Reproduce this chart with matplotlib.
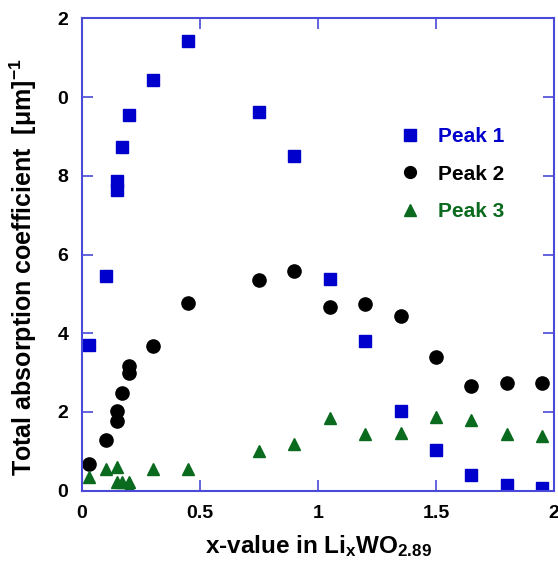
import matplotlib
matplotlib.use("Agg")
import matplotlib.pyplot as plt

plt.rcParams['font.family'] = ['Liberation Sans', 'DejaVu Sans']
plt.rcParams['mathtext.fontset'] = 'custom'
plt.rcParams['mathtext.rm'] = 'Liberation Sans:bold'
plt.rcParams['mathtext.it'] = 'Liberation Sans:bold'
plt.rcParams['mathtext.bf'] = 'Liberation Sans:bold'

# ================= DATA =================
x_p1 = [0.03, 0.10, 0.15, 0.15, 0.17, 0.20, 0.30, 0.45, 0.75, 0.90, 1.05, 1.20, 1.35, 1.50, 1.65, 1.80, 1.95]
y_p1 = [3.70, 5.45, 7.87, 7.63, 8.73, 9.55, 10.43, 11.43, 9.62, 8.50, 5.37, 3.80, 2.03, 1.04, 0.40, 0.15, 0.08]

x_p2 = [0.03, 0.10, 0.15, 0.15, 0.17, 0.20, 0.20, 0.30, 0.45, 0.75, 0.90, 1.05, 1.20, 1.35, 1.50, 1.65, 1.80, 1.95]
y_p2 = [0.68, 1.28, 2.03, 1.77, 2.48, 3.17, 2.99, 3.68, 4.77, 5.36, 5.57, 4.66, 4.74, 4.43, 3.39, 2.65, 2.73, 2.73]

x_p3 = [0.03, 0.10, 0.15, 0.15, 0.17, 0.20, 0.20, 0.30, 0.45, 0.75, 0.90, 1.05, 1.20, 1.35, 1.50, 1.65, 1.80, 1.95]
y_p3 = [0.36, 0.56, 0.60, 0.22, 0.22, 0.22, 0.10, 0.56, 0.55, 1.00, 1.19, 1.85, 1.45, 1.47, 1.86, 1.80, 1.45, 1.38]

x_ticks = [0, 0.5, 1, 1.5, 2]
x_tick_labels = ["0", "0.5", "1", "1.5", "2"]
y_ticks = [0, 2, 4, 6, 8, 10, 12]
y_tick_labels = ["0", "2", "4", "6", "8", "0", "2"]

labels = ["Peak 1", "Peak 2", "Peak 3"]
colors = ["#0000cc", "#000000", "#0a6a1e"]
axis_color = "#4a4ad8"

# ================= PLOT =================
fig = plt.figure(figsize=(5.58, 5.69), dpi=100)
ax = fig.add_axes([0.147, 0.1376, 0.846, 0.8302])

ax.plot(x_p1, y_p1, 's', color=colors[0], ms=8.5, mec=colors[0], label=labels[0])
ax.plot(x_p2, y_p2, 'o', color=colors[1], ms=9.5, label=labels[1])
ax.plot(x_p3, y_p3, '^', color=colors[2], ms=8.5, label=labels[2])

ax.set_xlim(0, 2)
ax.set_ylim(0, 12)
ax.set_xticks(x_ticks)
ax.set_xticklabels(x_tick_labels)
ax.set_yticks(y_ticks)
ax.set_yticklabels(y_tick_labels)

for sp in ax.spines.values():
    sp.set_color(axis_color)
    sp.set_linewidth(1.5)

ax.tick_params(direction='in', length=8, width=1.2, color=axis_color,
               top=True, right=True, labelsize=14, pad=10)
for lbl in ax.get_xticklabels() + ax.get_yticklabels():
    lbl.set_fontweight('bold')

ax.set_xlabel(r"x-value in Li$_\mathregular{x}$WO$_\mathregular{2.89}$",
              fontsize=17.5, fontweight='bold', labelpad=8)
ax.set_ylabel(r"Total absorption coefficient  [$\mathregular{\mu}$m]$^\mathregular{-1}$",
              fontsize=18, fontweight='bold')
ax.yaxis.set_label_coords(-0.092, 0.4725)

leg = ax.legend(loc='upper left', bbox_to_anchor=(0.655, 0.787), frameon=False,
                prop={'weight': 'bold', 'size': 15}, labelspacing=0.88,
                handletextpad=0.85, handlelength=1.0, numpoints=1,
                borderaxespad=0)
for txt, c in zip(leg.get_texts(), colors):
    txt.set_color(c)
for h in leg.legend_handles:
    h.set_markersize(8.5)

fig.savefig("out.png", dpi=100)
